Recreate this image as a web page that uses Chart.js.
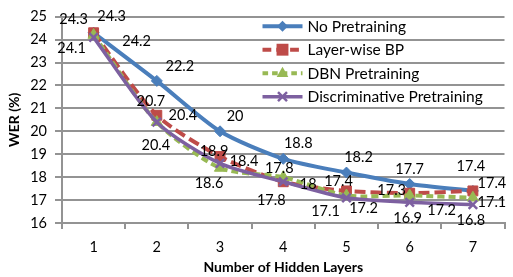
<!DOCTYPE html>
<html><head><meta charset="utf-8">
<script src="https://cdn.jsdelivr.net/npm/chart.js@4.4.0/dist/chart.umd.min.js"></script>
<style>html,body{margin:0;padding:0;background:#fff}#wrap{width:513px;height:277px;position:relative}</style>
</head><body><div id="wrap"><canvas id="c" width="513" height="277"></canvas></div>
<script>
// ---- data ----
const categories = ['1', '2', '3', '4', '5', '6', '7'];
const seriesNames = ['No Pretraining', 'Layer-wise BP', 'DBN Pretraining', 'Discriminative Pretraining'];
const noPretraining = [24.3, 22.2, 20, 18.8, 18.2, 17.7, 17.4];
const layerwiseBP = [24.3, 20.7, 18.9, 17.8, 17.4, 17.3, 17.4];
const dbnPretraining = [24.2, 20.4, 18.4, 18, 17.2, 17.2, 17.1];
const discriminativePretraining = [24.1, 20.4, 18.6, 17.8, 17.1, 16.9, 16.8];
const yMin = 16, yMax = 25, yStep = 1;
const xTitle = 'Number of Hidden Layers';
const yTitle = 'WER (%)';

// ---- styling / layout (not data) ----
const FONT = 'Lato, "Open Sans", "DejaVu Sans", sans-serif';
const GRID = '#939393';
const styles = [
  {color: '#4A7EBB', dash: [], width: 4, point: 'rectRot', radius: 5.5},
  {color: '#BE4B48', dash: [11, 5], width: 4, point: 'rect', radius: 7},
  {color: '#98B954', dash: [7, 4], width: 4, point: 'triangle', radius: 6.5},
  {color: '#7D60A0', dash: [], width: 3.5, point: 'crossRot', radius: 6}
];
// per-label offsets (px) relative to the point, as placed in the original
const labelOffsets = [
  [[18,-16],[23,-15],[15,-15],[15,-15],[12,-15],[0,-15],[-2,-25]],
  [[-20,-13],[-6,-14],[-6,-5],[-4,-13],[-8,-10],[-18,-3],[19,-8]],
  [[43,6],[26,-7],[24,-7],[25,7],[17,13],[32,15],[19,5]],
  [[-22,11],[-1,23],[-11,20],[-12,19],[-21,14],[-2,16],[-2,16]]
];

const seriesData = [noPretraining, layerwiseBP, dbnPretraining, discriminativePretraining];

function drawMarker(ctx, style, x, y) {
  const r = style.radius;
  ctx.save();
  ctx.fillStyle = style.color; ctx.strokeStyle = style.color; ctx.setLineDash([]);
  ctx.beginPath();
  if (style.point === 'rectRot') {
    ctx.moveTo(x, y - r); ctx.lineTo(x + r, y); ctx.lineTo(x, y + r); ctx.lineTo(x - r, y); ctx.closePath(); ctx.fill();
  } else if (style.point === 'rect') {
    ctx.rect(x - r * 0.85, y - r * 0.85, r * 1.7, r * 1.7); ctx.fill();
  } else if (style.point === 'triangle') {
    ctx.moveTo(x, y - r); ctx.lineTo(x + r * 0.9, y + r * 0.6); ctx.lineTo(x - r * 0.9, y + r * 0.6); ctx.closePath(); ctx.fill();
  } else {
    ctx.lineWidth = 2.5;
    const d = r * 0.75;
    ctx.moveTo(x - d, y - d); ctx.lineTo(x + d, y + d); ctx.moveTo(x + d, y - d); ctx.lineTo(x - d, y + d); ctx.stroke();
  }
  ctx.restore();
}

const labelPlugin = {
  id: 'valueLabels',
  afterDatasetsDraw(chart) {
    const ctx = chart.ctx;
    ctx.save();
    ctx.font = '14.5px ' + FONT;
    ctx.fillStyle = '#000';
    ctx.textAlign = 'center';
    ctx.textBaseline = 'middle';
    chart.data.datasets.forEach((ds, i) => {
      const meta = chart.getDatasetMeta(i);
      meta.data.forEach((pt, j) => {
        const o = labelOffsets[i][j];
        ctx.fillText(String(ds.data[j]), pt.x + o[0], pt.y + o[1]);
      });
    });
    ctx.restore();
  }
};

const legendPlugin = {
  id: 'customLegend',
  afterDraw(chart) {
    const ctx = chart.ctx;
    const x0 = chart.chartArea.right - 242, lineLen = 40, rowH = 23.5;
    const y0 = chart.chartArea.top + 9.5;
    ctx.save();
    seriesNames.forEach((name, i) => {
      const s = styles[i];
      const y = y0 + i * rowH;
      ctx.strokeStyle = s.color; ctx.lineWidth = s.width;
      ctx.setLineDash(s.dash.length ? [s.dash[0] * 0.8, s.dash[1]] : []);
      ctx.beginPath(); ctx.moveTo(x0, y); ctx.lineTo(x0 + lineLen, y); ctx.stroke();
      drawMarker(ctx, s, x0 + lineLen / 2, y);
      ctx.setLineDash([]);
      ctx.fillStyle = '#000';
      ctx.font = '15.5px ' + FONT;
      ctx.textAlign = 'left'; ctx.textBaseline = 'middle';
      ctx.fillText(name, x0 + lineLen + 5, y + 0.5);
    });
    ctx.restore();
  }
};

const datasets = seriesData.map((d, i) => ({
  label: seriesNames[i],
  data: d,
  borderColor: styles[i].color,
  backgroundColor: styles[i].color,
  borderWidth: styles[i].width,
  borderDash: styles[i].dash,
  tension: 0.25,
  pointStyle: styles[i].point,
  pointRadius: styles[i].radius,
  pointBorderWidth: styles[i].point === 'crossRot' ? 2.5 : 1,
  pointBackgroundColor: styles[i].color,
  pointBorderColor: styles[i].color,
  order: 4 - i
}));

new Chart(document.getElementById('c'), {
  type: 'line',
  data: {labels: categories, datasets},
  options: {
    responsive: false,
    devicePixelRatio: 1,
    animation: false,
    layout: {padding: {top: 13, right: 3, bottom: 0, left: 0}},
    plugins: {legend: {display: false}, tooltip: {enabled: false}},
    scales: {
      x: {
        type: 'category',
        offset: true,
        grid: {offset: true, drawOnChartArea: false, drawTicks: true, tickLength: 6, color: GRID, lineWidth: 2},
        border: {color: GRID, width: 2},
        ticks: {color: '#000', font: {family: FONT, size: 14.5}, padding: 10},
        title: {display: true, text: xTitle, color: '#000', font: {family: FONT, size: 14, weight: 'bold'}, padding: {top: 4, bottom: 1}},
        afterFit(s) { s.height = 54; }
      },
      y: {
        min: yMin, max: yMax,
        ticks: {stepSize: yStep, color: '#000', font: {family: FONT, size: 14.5}, padding: 8},
        grid: {color: GRID, lineWidth: 2, tickLength: 7},
        border: {color: GRID, width: 2},
        title: {display: true, text: yTitle, color: '#000', font: {family: FONT, size: 14, weight: 'bold'}, padding: {top: 6, bottom: 0}},
        afterFit(s) { s.width = 62; }
      }
    }
  },
  plugins: [labelPlugin, legendPlugin]
});
</script>
</body></html>
